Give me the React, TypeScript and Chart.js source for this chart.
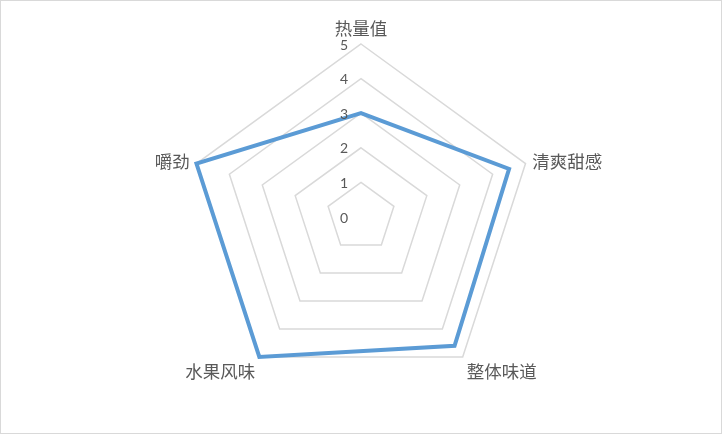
import { Chart, registerables } from "chart.js";
import { useEffect, useRef } from "react";

Chart.register(...registerables);

// 五个评价维度
const categories = ["热量值", "清爽甜感", "整体味道", "水果风味", "嚼劲"];
// 评分
const scores = [3, 4.5, 4.6, 5, 5];
// 刻度
const tickValues = [0, 1, 2, 3, 4, 5];

const textColor = "#595959";
const gridColor = "#d9d9d9";
const lineColor = "#5b9bd5";

// Excel-style labels: ticks left of the vertical axis, category labels beside each vertex
const radarLabelsPlugin = {
    id: "radarLabels",
    afterDraw(chart: any) {
        const scale = chart.scales.r;
        const { ctx } = chart;
        ctx.save();
        ctx.fillStyle = textColor;

        ctx.font = "14px Lato, 'Noto Sans', sans-serif";
        ctx.textAlign = "center";
        ctx.textBaseline = "middle";
        tickValues.forEach((v) => {
            const d = scale.getDistanceFromCenterForValue(v);
            ctx.fillText(String(v), scale.xCenter - 17, scale.yCenter - d + 1);
        });

        const size = 17.5;
        ctx.font = `${size}px 'Noto Sans CJK SC', sans-serif`;
        categories.forEach((text, i) => {
            const p = scale.getPointPosition(i, scale.drawingArea + 7);
            const dx = p.x - scale.xCenter;
            const dy = p.y - scale.yCenter;
            let y = p.y;
            if (Math.abs(dx) < 1) {
                ctx.textAlign = "center";
                y = p.y - size / 2;
            } else {
                ctx.textAlign = dx > 0 ? "left" : "right";
                if (dy > 0) y = p.y + size / 2;
            }
            ctx.fillText(text, p.x, y);
        });
        ctx.restore();
    },
};

const RadarChart = () => {
    const canvasRef = useRef<HTMLCanvasElement | null>(null);
    const chartRef = useRef<Chart | null>(null);

    useEffect(() => {
        if (!canvasRef.current) return;
        if (chartRef.current) chartRef.current.destroy();

        chartRef.current = new Chart(canvasRef.current, {
            type: "radar",
            data: {
                labels: categories,
                datasets: [{
                    label: "评分",
                    data: scores,
                    borderColor: lineColor,
                    backgroundColor: lineColor,
                    borderWidth: 4,
                    borderJoinStyle: "miter",
                    pointRadius: 0,
                    pointHoverRadius: 0,
                    fill: false,
                    tension: 0,
                } as any],
            },
            options: {
                responsive: true,
                maintainAspectRatio: false,
                animation: false,
                layout: { padding: { top: 43, bottom: 43, left: 100, right: 100 } },
                scales: {
                    r: {
                        min: tickValues[0],
                        max: tickValues[tickValues.length - 1],
                        ticks: { display: false, stepSize: 1 },
                        grid: { color: gridColor, lineWidth: 1.5 },
                        angleLines: { display: false },
                        pointLabels: { display: false },
                    },
                },
                plugins: {
                    legend: { display: false },
                    tooltip: { enabled: false },
                },
            } as any,
            plugins: [radarLabelsPlugin],
        });

        return () => {
            if (chartRef.current) chartRef.current.destroy();
            chartRef.current = null;
        };
    }, []);

    return <canvas ref={canvasRef} />;
};

export default function App() {
    return (
        <div
            style={{
                position: "fixed",
                left: 0,
                top: 0,
                width: 722,
                height: 434,
                boxSizing: "border-box",
                border: "1px solid #d9d9d9",
                background: "#fff",
            }}
        >
            <div style={{ position: "relative", width: 720, height: 432 }}>
                <RadarChart />
            </div>
        </div>
    );
}
